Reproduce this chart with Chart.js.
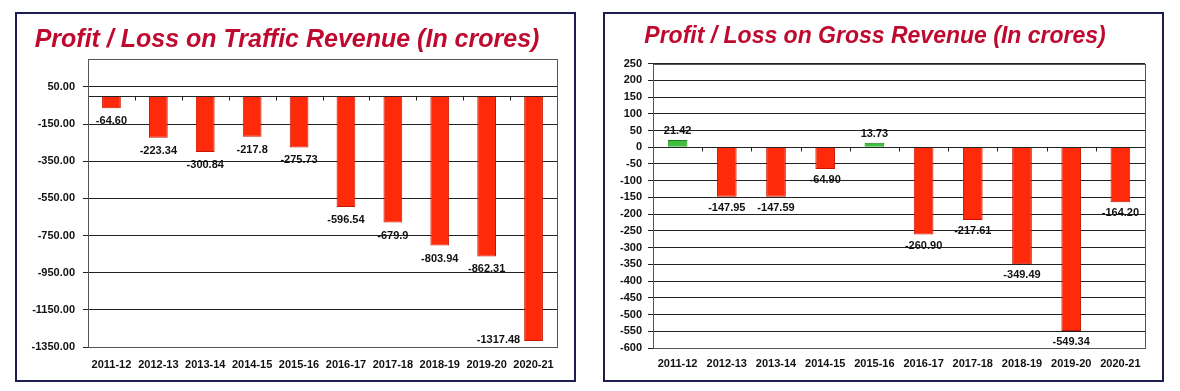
<!DOCTYPE html>
<html>
<head>
<meta charset="utf-8">
<script src="https://cdn.jsdelivr.net/npm/chart.js@4.4.1/dist/chart.umd.min.js"></script>
<style>
body { margin: 0; background: #fff; width: 1180px; height: 391px; position: relative; overflow: hidden; }
.painel { position: absolute; top: 12px; width: 561px; height: 370px; border: 2px solid #1d1d52; box-sizing: border-box; background: #fff; }
#painelTrafego { left: 15px; }
#painelBruto { left: 603px; }
canvas { display: block; }
</style>
</head>
<body>
<div class="painel" id="painelTrafego"><canvas id="graficoTrafego" width="557" height="366"></canvas></div>
<div class="painel" id="painelBruto"><canvas id="graficoBruto" width="557" height="366"></canvas></div>
<script>
var anos = ['2011-12', '2012-13', '2013-14', '2014-15', '2015-16', '2016-17', '2017-18', '2018-19', '2019-20', '2020-21'];

// valores, como texto para manter as casas decimais dos rotulos
var lucroTrafego = ['-64.60', '-223.34', '-300.84', '-217.8', '-275.73', '-596.54', '-679.9', '-803.94', '-862.31', '-1317.48'];
var lucroBruto = ['21.42', '-147.95', '-147.59', '-64.90', '13.73', '-260.90', '-217.61', '-349.49', '-549.34', '-164.20'];

var ticksTrafego = [-1350, -1150, -950, -750, -550, -350, -150, 50];
var ticksBruto = [-600, -550, -500, -450, -400, -350, -300, -250, -200, -150, -100, -50, 0, 50, 100, 150, 200, 250];

var fonte = '"Liberation Sans", Arial, sans-serif';
var vermelho = '#ff2a0a';
var vermelhoBorda = '#c81400';
var verde = '#3cbf3c';
var verdeBorda = '#1f7f1f';

var pluginMoldura = {
    id: 'moldura',
    afterDatasetsDraw: function(chart, args, opcoes) {
        var ctx = chart.ctx;
        var area = chart.chartArea;
        var escalaX = chart.scales.x;
        var escalaY = chart.scales.y;
        var y0 = Math.round(escalaY.getPixelForValue(0)) + 0.5;

        ctx.save();
        // linha do zero e marcas entre categorias
        ctx.strokeStyle = '#222';
        ctx.lineWidth = 1;
        ctx.beginPath();
        ctx.moveTo(area.left, y0);
        ctx.lineTo(area.right, y0);
        for (var i = 1; i < anos.length; i++) {
            var xb = Math.round((escalaX.getPixelForValue(i - 1) + escalaX.getPixelForValue(i)) / 2) + 0.5;
            ctx.moveTo(xb, y0);
            ctx.lineTo(xb, y0 + 4);
        }
        ctx.stroke();

        // moldura da area do grafico
        ctx.strokeStyle = '#555';
        ctx.strokeRect(Math.round(area.left) + 0.5, Math.round(area.top) + 0.5,
            Math.round(area.right - area.left), Math.round(area.bottom - area.top));

        // rotulos dos valores
        var meta = chart.getDatasetMeta(0);
        ctx.font = 'bold 11px ' + fonte;
        ctx.fillStyle = '#111';
        ctx.textBaseline = 'middle';
        meta.data.forEach(function(barra, j) {
            var texto = opcoes.textos[j];
            var valor = Number(texto);
            if (valor >= 0) {
                ctx.textAlign = 'center';
                ctx.fillText(texto, barra.x, barra.y - opcoes.acima);
            } else if (barra.y + opcoes.abaixo + 5 > area.bottom) {
                ctx.textAlign = 'right';
                ctx.fillText(texto, barra.x - barra.width / 2 - 4, barra.y - 1);
            } else {
                ctx.textAlign = 'center';
                ctx.fillText(texto, barra.x, barra.y + opcoes.abaixo);
            }
        });
        ctx.restore();
    }
};

function criarGrafico(ctx, valores, ticksY, minY, maxY, titulo, ajuste, formatar) {
    var numeros = valores.map(Number);
    var config = {
        type: 'bar',
        data: {
            labels: anos,
            datasets: [{
                data: numeros,
                backgroundColor: numeros.map(function(v) { return v >= 0 ? verde : vermelho; }),
                borderColor: numeros.map(function(v) { return v >= 0 ? verdeBorda : vermelhoBorda; }),
                borderWidth: 1,
                barPercentage: 0.4,
                categoryPercentage: 1
            }]
        },
        options: {
            responsive: false,
            animation: false,
            devicePixelRatio: 1,
            layout: { padding: { left: 0, right: 17, top: 0, bottom: 0 } },
            plugins: {
                legend: { display: false },
                tooltip: { enabled: false },
                title: {
                    display: true,
                    text: titulo,
                    color: '#bf0a30',
                    font: { family: fonte, size: ajuste.tamanhoTitulo, weight: 'bold', style: 'italic', lineHeight: 1.2 },
                    padding: { top: ajuste.tituloTopo, bottom: ajuste.tituloBase }
                },
                moldura: { textos: valores, acima: ajuste.acima, abaixo: ajuste.abaixo }
            },
            scales: {
                x: {
                    grid: { display: false, drawTicks: false },
                    border: { display: false },
                    afterFit: function(escala) { escala.height = ajuste.alturaX; },
                    ticks: {
                        padding: ajuste.paddingX,
                        maxRotation: 0,
                        autoSkip: false,
                        color: '#111',
                        font: { family: fonte, size: 11, weight: 'bold' }
                    }
                },
                y: {
                    min: minY,
                    max: maxY,
                    afterBuildTicks: function(escala) {
                        escala.ticks = ticksY.map(function(v) { return { value: v }; });
                    },
                    afterFit: function(escala) { escala.width = ajuste.larguraY; },
                    grid: { color: '#222', lineWidth: 1, tickLength: 5, drawTicks: true },
                    border: { display: true, color: '#444' },
                    ticks: {
                        padding: ajuste.paddingY,
                        autoSkip: false,
                        color: '#111',
                        font: { family: fonte, size: 11, weight: 'bold' },
                        callback: formatar
                    }
                }
            }
        },
        plugins: [pluginMoldura]
    };

    const meuGrafico = new Chart(ctx, config);
}

criarGrafico(document.getElementById('graficoTrafego'), lucroTrafego, ticksTrafego, -1350, 200,
    'Profit / Loss on Traffic Revenue (In crores)',
    { tamanhoTitulo: 25, tituloTopo: 11, tituloBase: 4, alturaX: 33, paddingX: 11, larguraY: 71, paddingY: 8, acima: 10, abaixo: 13 },
    function(valor) { return valor.toFixed(2); });

criarGrafico(document.getElementById('graficoBruto'), lucroBruto, ticksBruto, -600, 250,
    'Profit / Loss on Gross Revenue (In crores)',
    { tamanhoTitulo: 23, tituloTopo: 9, tituloBase: 13, alturaX: 32, paddingX: 9, larguraY: 48, paddingY: 6, acima: 9, abaixo: 11 },
    function(valor) { return String(valor); });
</script>
</body>
</html>
